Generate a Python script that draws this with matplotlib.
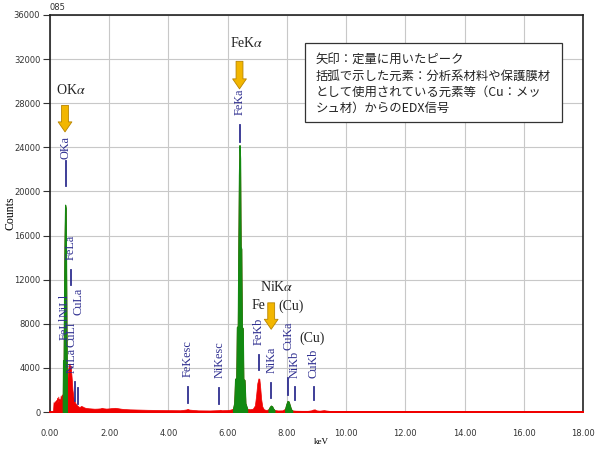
import matplotlib
matplotlib.use("Agg")
import matplotlib.pyplot as plt
from matplotlib.patches import Rectangle
import numpy as np

plt.rcParams['mathtext.fontset'] = 'stix'

# EDX spectrum (keV, counts)
energy = [0.00, 0.08, 0.10, 0.12, 0.14, 0.16, 0.18, 0.20, 0.22, 0.24, 0.26, 0.28, 0.30, 0.32,
          0.34, 0.36, 0.38, 0.40, 0.42, 0.43, 0.44, 0.46, 0.47, 0.49, 0.51, 0.53, 0.55, 0.57,
          0.58, 0.60, 0.62, 0.64, 0.66, 0.68, 0.70, 0.72, 0.74, 0.76, 0.78, 0.80, 0.84, 0.88,
          0.92, 0.96, 1.00, 1.05, 1.10, 1.15, 1.20, 1.30, 1.40, 1.50, 1.60, 1.70, 1.75, 1.80,
          1.90, 2.00, 2.10, 2.20, 2.30, 2.40, 2.50, 2.70, 3.00, 3.30, 3.60, 4.00, 4.40, 4.60,
          4.65, 4.70, 5.00, 5.40, 5.70, 5.75, 5.80, 6.00, 6.10, 6.18, 6.22, 6.25, 6.29, 6.31,
          6.34, 6.36, 6.38, 6.40, 6.42, 6.44, 6.46, 6.48, 6.51, 6.53, 6.57, 6.60, 6.66, 6.75,
          6.85, 6.92, 6.96, 7.00, 7.04, 7.07, 7.10, 7.13, 7.17, 7.22, 7.30, 7.38, 7.42, 7.46,
          7.50, 7.54, 7.58, 7.70, 7.85, 7.94, 7.98, 8.02, 8.06, 8.10, 8.14, 8.18, 8.30, 8.50,
          8.70, 8.82, 8.88, 8.94, 9.00, 9.10, 9.25, 9.32, 9.45, 10.0, 12.0, 14.0, 16.0, 18.0]
counts = [0, 0, 0, 900, 600, 1000, 700, 1100, 800, 1300, 900, 1400, 1000, 1200,
          900, 1500, 1100, 1600, 1300, 1500, 4700, 4700, 9000, 15500, 18800, 18500, 11000, 3000,
          2500, 3500, 4000, 4300, 4400, 4000, 4200, 3500, 2800, 2000, 1600, 1200, 900, 700,
          600, 500, 450, 550, 500, 420, 380, 340, 320, 300, 310, 330, 380, 340,
          310, 330, 360, 380, 340, 300, 270, 240, 220, 200, 190, 170, 160, 230,
          280, 220, 150, 140, 170, 200, 160, 180, 220, 300, 800, 3000, 3100, 7700,
          7800, 15000, 21500, 24200, 23000, 15000, 14800, 7700, 7600, 3000, 2900, 800, 300, 250,
          300, 600, 1500, 2600, 3050, 3000, 2200, 1200, 500, 250, 180, 250, 450, 580,
          520, 300, 180, 140, 150, 300, 700, 1000, 950, 600, 250, 150, 120, 110,
          110, 150, 220, 240, 150, 120, 170, 140, 100, 90, 80, 75, 70, 70]

# energy windows of the peaks used for quantification (green)
roi = [(0.43, 0.57), (6.18, 6.66), (7.38, 7.58), (7.94, 8.18)]

# peak markers: name, energy, line bottom, line top, text bottom
mk_name = ['OKa', 'FeKa', 'FeLa', 'FeKesc', 'NiKesc', 'FeKb', 'NiKa', 'CuKa', 'NiKb', 'CuKb']
mk_x = [0.525, 6.40, 0.705, 4.65, 5.72, 7.06, 7.48, 8.05, 8.27, 8.91]
mk_lo = [20500, 24500, 11500, 820, 730, 3800, 1270, 1540, 1090, 1090]
mk_hi = [22800, 26000, 12900, 2270, 2180, 5170, 2630, 3080, 2270, 2270]
mk_txt = [22900, 26900, 13800, 3180, 3080, 6080, 3540, 5620, 3080, 3080]

# crowded L-line labels near 0.5-1 keV (no own line)
cl_name = ['FeLl', 'NiLl', 'NiLa', 'CuLl', 'CuLa']
cl_x = [0.50, 0.50, 0.74, 0.74, 0.95]
cl_txt = [6500, 8600, 3540, 5900, 8800]
cl_line_x = [0.85, 0.93]
cl_line_lo = [1000, 700]
cl_line_hi = [2700, 2200]

# black notes and orange arrows
note_txt = [r'OK$\alpha$', r'FeK$\alpha$', r'NiK$\alpha$', 'Fe', '(Cu)', '(Cu)']
note_x = [0.71, 6.65, 7.67, 7.03, 8.14, 8.85]
note_y = [29200, 33460, 11330, 9700, 9610, 6710]
arr_x = [0.507, 6.40, 7.47]
arr_top = [27800, 31800, 9900]
arr_tip = [25400, 29300, 7500]

box_lines = ['矢印：定量に用いたピーク',
             '括弧で示した元素：分析系材料や保護膜材',
             'として使用されている元素等（Cu：メッ',
             'シュ材）からのEDX信号']

blue = '#2f2f90'
red = '#f00000'
green = '#128a12'

fig = plt.figure(figsize=(6, 4.5), dpi=100)
ax = fig.add_axes([50 / 600, 38 / 450, 533 / 600, 397 / 450])

e = np.array(energy)
c = np.array(counts)
ax.fill_between(e, 0, c, color=red, lw=0.5, edgecolor=red, zorder=3)
for lo, hi in roi:
    m = (e >= lo - 1e-9) & (e <= hi + 1e-9)
    ax.fill_between(e[m], 0, c[m], color=green, lw=0.8, edgecolor=green, zorder=4)

for n, x, lo, hi, t in zip(mk_name, mk_x, mk_lo, mk_hi, mk_txt):
    ax.plot([x, x], [lo, hi], color=blue, lw=1.3, zorder=5)
    ax.text(x, t, n, rotation=90, ha='center', va='bottom', color=blue,
            fontsize=8.8, family='Liberation Serif', zorder=6)
for n, x, t in zip(cl_name, cl_x, cl_txt):
    ax.text(x, t, n, rotation=90, ha='center', va='bottom', color=blue,
            fontsize=8.8, family='Liberation Serif', zorder=6)
for x, lo, hi in zip(cl_line_x, cl_line_lo, cl_line_hi):
    ax.plot([x, x], [lo, hi], color=blue, lw=1.3, zorder=5)

for t, x, y in zip(note_txt, note_x, note_y):
    ax.text(x, y, t, ha='center', va='center', fontsize=10,
            family='Liberation Serif', color='#222222', zorder=6)
for x, y0, y1 in zip(arr_x, arr_top, arr_tip):
    ax.annotate('', xy=(x, y1), xytext=(x, y0), zorder=6,
                arrowprops=dict(arrowstyle='simple,head_length=0.8,head_width=1.1,tail_width=0.55',
                                fc='#f2b600', ec='#b88400', lw=0.6, mutation_scale=9,
                                shrinkA=0, shrinkB=0))

# note box
ax.add_patch(Rectangle((0.478, 0.730), 0.483, 0.199, transform=ax.transAxes,
                       fc='white', ec='#333333', lw=0.9, zorder=7))
for i, line in enumerate(box_lines):
    ax.text(0.499, 0.887 - i * 0.041, line, transform=ax.transAxes, ha='left', va='center',
            fontsize=8.9, family=['Noto Sans CJK JP', 'DejaVu Sans'], color='#222222', zorder=8)

ax.set_xlim(0, 18)
ax.set_ylim(0, 36000)
ax.set_xticks(np.arange(0, 18.1, 2))
ax.set_xticklabels([f'{v:.2f}' for v in np.arange(0, 18.1, 2)])
ax.set_yticks(np.arange(0, 36001, 4000))
ax.grid(True, color='#c8c8c8', lw=0.8, zorder=0)
ax.set_axisbelow(True)
ax.tick_params(axis='both', labelsize=6, colors='#333333')
ax.tick_params(axis='x', length=0, pad=12)
ax.tick_params(axis='y', length=5, width=0.8, pad=2)
for s in ['left', 'top', 'right']:
    ax.spines[s].set_color('#222222')
    ax.spines[s].set_linewidth(1.2)
ax.spines['bottom'].set_color(red)
ax.spines['bottom'].set_linewidth(1.4)

ax.set_ylabel('Counts', fontsize=8.5, family='Liberation Serif')
ax.yaxis.set_label_coords(-0.062, 0.5)
ax.set_xlabel('keV', fontsize=6.5, family='Liberation Serif')
ax.xaxis.set_label_coords(0.51, -0.065)
fig.text(50 / 600, 443 / 450, '085', fontsize=6, color='#333333', ha='left', va='center')

fig.savefig('out.png', dpi=100)
